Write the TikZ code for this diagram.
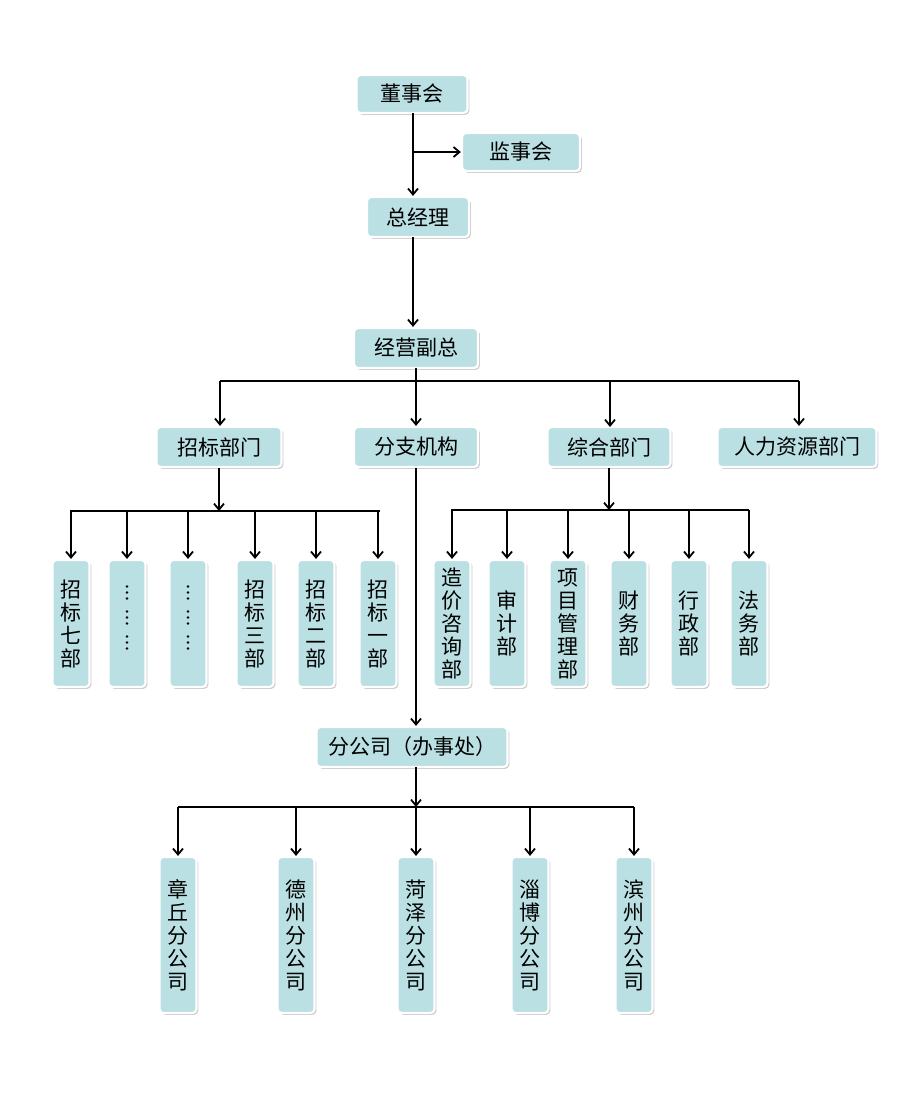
\documentclass[tikz,border=0pt]{standalone}
\usepackage{fontspec}
\newfontfamily\cjk{Noto Sans CJK SC}
\usetikzlibrary{arrows.meta,shadows}
\definecolor{boxfill}{RGB}{186,224,227}
\tikzset{
  box/.style={rounded corners=4pt, fill=boxfill, draw=white, line width=2.2pt,
    drop shadow={shadow xshift=1.8pt, shadow yshift=-1.8pt, fill=black!45, opacity=0.45},
    inner sep=0pt, font=\cjk\fontsize{21}{23}\selectfont, align=center},
  hbox/.style={box, minimum height=38pt},
  vbox/.style={box, minimum width=37pt, minimum height=127pt},
  wbox/.style={box, minimum width=37pt, minimum height=156pt},
  arr/.style={draw=black, line width=1.8pt, -{Straight Barb[length=6pt,width=10pt,line width=1.8pt]}},
  ln/.style={draw=black, line width=1.8pt},
  dotc/.style={circle, fill=black, inner sep=0pt, minimum size=2.6pt}
}
\begin{document}
\begin{tikzpicture}[x=1pt,y=-1pt]
\useasboundingbox[fill=white] (0,0) rectangle (900,1117);
% top
\node[hbox, minimum width=111pt] (dsh) at (412,94) {董事会};
\node[hbox, minimum width=118pt] (jsh) at (521,152) {监事会};
\node[hbox, minimum width=102pt, minimum height=40pt] (zjl) at (418,217) {总经理};
\node[hbox, minimum width=124pt, minimum height=40pt] (jyfz) at (416,348) {经营副总};
% second level
\node[hbox, minimum width=125pt, minimum height=40pt] (zbbm) at (219,447) {招标部门};
\node[hbox, minimum width=124pt, minimum height=40pt] (fzjg) at (416,447) {分支机构};
\node[hbox, minimum width=123pt, minimum height=40pt] (zhbm) at (609,447) {综合部门};
\node[hbox, minimum width=159pt, minimum height=40pt] (rlzy) at (797,447) {人力资源部门};
% left subunits
\node[vbox] (z7) at (71,623.5) {招\\标\\七\\部};
\node[vbox] (d1) at (127,623.5) {};
\node[vbox] (d2) at (188,623.5) {};
\node[vbox] (z3) at (255,623.5) {招\\标\\三\\部};
\node[vbox] (z2) at (316,623.5) {招\\标\\二\\部};
\node[vbox] (z1) at (378,623.5) {招\\标\\一\\部};
\foreach \n in {d1,d2}{
  \foreach \g in {0,25,50}{
    \foreach \k in {0,6,12}{
      \node[dotc] at ([yshift={-(\g+\k)*1pt+37pt}]\n.center) {};
    }
  }
}
% right subunits
\node[vbox] (zj) at (452,623.5) {造\\价\\咨\\询\\部};
\node[vbox] (sj) at (507,623.5) {审\\计\\部};
\node[vbox] (xm) at (568,623.5) {项\\目\\管\\理\\部};
\node[vbox] (cw) at (629,623.5) {财\\务\\部};
\node[vbox] (xz) at (689,623.5) {行\\政\\部};
\node[vbox] (fw) at (749,623.5) {法\\务\\部};
% branch companies
\node[hbox, minimum width=191pt, minimum height=40pt] (fgs) at (412,747) {分公司（办事处）};
\node[wbox] (zq) at (178,935) {章\\丘\\分\\公\\司};
\node[wbox] (dz) at (296,935) {德\\州\\分\\公\\司};
\node[wbox] (hz) at (416,935) {菏\\泽\\分\\公\\司};
\node[wbox] (zb) at (530,935) {淄\\博\\分\\公\\司};
\node[wbox] (bz) at (634,935) {滨\\州\\分\\公\\司};
% connectors top
\coordinate (t1) at (413,113);
\coordinate (t2) at (413,152);
\draw[arr] (t1) -- (t1 |- zjl.north);
\draw[arr] (t2) -- (jsh.west);
\coordinate (t3) at (413,237);
\draw[arr] (t3) -- (t3 |- jyfz.north);
% bus 1
\coordinate (b1) at (220,381);
\coordinate (b4) at (799,381);
\draw[ln] (416,368) -- (416,381);
\draw[ln] (b1) -- (b4);
\draw[arr] (b1) -- (b1 |- zbbm.north);
\draw[arr] (416,381) -- (fzjg.north);
\draw[arr] (610,381) -- (610,427);
\draw[arr] (b4) -- (b4 |- rlzy.north);
% bus left
\coordinate (l0) at (219,511);
\draw[arr] (zbbm.south) -- (l0);
\coordinate (la) at (70,511);
\coordinate (lb) at (380,511);
\draw[ln] (la) -- (lb);
\foreach \n in {z7,d1,d2,z3,z2,z1}{
  \draw[arr] (\n.north |- la) -- (\n.north);
}
% bus right
\coordinate (r0) at (609,510);
\draw[arr] (zhbm.south) -- (r0);
\coordinate (ra) at (451,510);
\coordinate (rb) at (749,510);
\draw[ln] (ra) -- (rb);
\foreach \n in {zj,sj,xm,cw,xz,fw}{
  \draw[arr] (\n.north |- ra) -- (\n.north);
}
% branch line
\draw[arr] (fzjg.south) -- (fzjg.south |- fgs.north);
\coordinate (f0) at (416,807);
\draw[arr] (416,767) -- (f0);
\coordinate (fa) at (178,807);
\coordinate (fb) at (634,807);
\draw[ln] (fa) -- (fb);
\foreach \n in {zq,dz,hz,zb,bz}{
  \draw[arr] (\n.north |- fa) -- (\n.north);
}
\end{tikzpicture}
\end{document}
